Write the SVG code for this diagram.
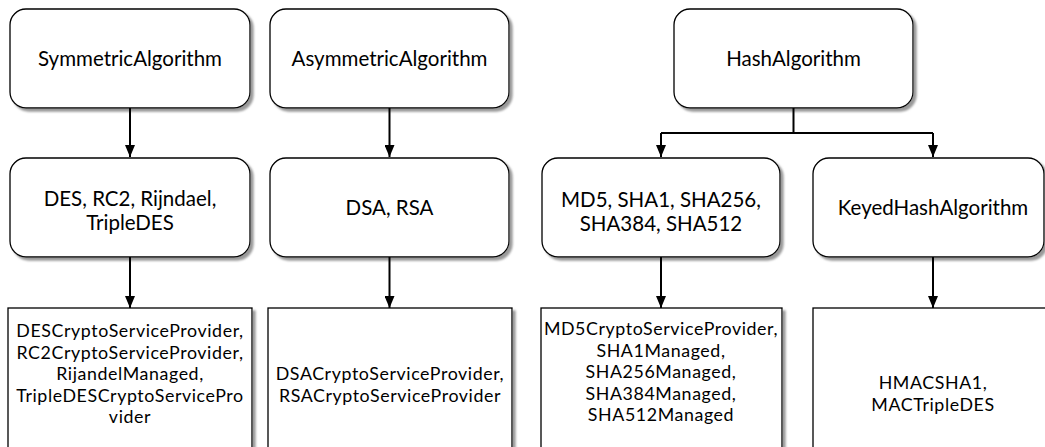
<svg xmlns="http://www.w3.org/2000/svg" width="1045" height="447" viewBox="0 0 1045 447">
<style>
.box{fill:#fff;stroke:#000;stroke-width:1.3;filter:url(#sh)}
.t{font-family:Lato,"Liberation Sans",sans-serif;font-size:20.5px;fill:#000;text-anchor:middle}
.s{font-size:17.8px;letter-spacing:0.6px}
.c{fill:none;stroke:#000;stroke-width:2}
</style>
<defs>
<filter id="sh" x="-5%" y="-5%" width="115%" height="115%">
<feDropShadow dx="3" dy="3" stdDeviation="0.8" flood-color="#999" flood-opacity="1"/>
</filter>
<marker id="ah" markerWidth="12" markerHeight="10" refX="12" refY="5" orient="auto" markerUnits="userSpaceOnUse" viewBox="0 0 12 10">
<path d="M0,0 L12,5 L0,10 Z" fill="#000"/>
</marker>
</defs>
<rect width="1045" height="447" fill="#fff"/>

<g id="sym">
<rect class="box" x="10" y="9" width="240" height="99" rx="16"/>
<text class="t" x="130" y="66">SymmetricAlgorithm</text>
</g>
<g id="asym">
<rect class="box" x="270" y="9" width="239" height="99" rx="16"/>
<text class="t" x="389.5" y="66">AsymmetricAlgorithm</text>
</g>
<g id="hash">
<rect class="box" x="674" y="9" width="239" height="99" rx="16"/>
<text class="t" x="793.5" y="66">HashAlgorithm</text>
</g>

<g id="symimpl">
<rect class="box" x="10" y="158" width="240" height="99" rx="16"/>
<text class="t" x="130" y="206">DES, RC2, Rijndael,</text>
<text class="t" x="130" y="230">TripleDES</text>
</g>
<g id="asymimpl">
<rect class="box" x="270" y="158" width="239" height="99" rx="16"/>
<text class="t" x="389.5" y="215">DSA, RSA</text>
</g>
<g id="hashimpl">
<rect class="box" x="542" y="158" width="238" height="99" rx="16"/>
<text class="t" x="661" y="207">MD5, SHA1, SHA256,</text>
<text class="t" x="661" y="231">SHA384, SHA512</text>
</g>
<g id="keyed">
<rect class="box" x="813" y="158" width="231" height="99" rx="16"/>
<text class="t" x="933" y="215">KeyedHashAlgorithm</text>
</g>

<g id="symprov">
<rect class="box" x="8" y="308" width="244" height="160"/>
<text class="t s" x="130" y="337">DESCryptoServiceProvider,</text>
<text class="t s" x="130" y="358.5">RC2CryptoServiceProvider,</text>
<text class="t s" x="130" y="380">RijandelManaged,</text>
<text class="t s" x="130" y="401.5">TripleDESCryptoServicePro</text>
<text class="t s" x="130" y="423">vider</text>
</g>
<g id="asymprov">
<rect class="box" x="268" y="308" width="244" height="160"/>
<text class="t s" x="390" y="380">DSACryptoServiceProvider,</text>
<text class="t s" x="390" y="401.5">RSACryptoServiceProvider</text>
</g>
<g id="hashprov">
<rect class="box" x="541" y="308" width="241" height="160"/>
<text class="t s" x="661" y="335">MD5CryptoServiceProvider,</text>
<text class="t s" x="661" y="356.5">SHA1Managed,</text>
<text class="t s" x="661" y="378">SHA256Managed,</text>
<text class="t s" x="661" y="399.5">SHA384Managed,</text>
<text class="t s" x="661" y="421">SHA512Managed</text>
</g>
<g id="keyedprov">
<rect class="box" x="813" y="308" width="245" height="160"/>
<text class="t s" x="933" y="389">HMACSHA1,</text>
<text class="t s" x="933" y="410.5">MACTripleDES</text>
</g>

<g id="connectors">
<path class="c" d="M130,108 V157" marker-end="url(#ah)"/>
<path class="c" d="M389.5,108 V157" marker-end="url(#ah)"/>
<path class="c" d="M130,257 V308" marker-end="url(#ah)"/>
<path class="c" d="M389.5,257 V308" marker-end="url(#ah)"/>
<path class="c" d="M793.5,108 V133 M661,133 H933"/>
<path class="c" d="M661,133 V157" marker-end="url(#ah)"/>
<path class="c" d="M933,133 V157" marker-end="url(#ah)"/>
<path class="c" d="M661,257 V308" marker-end="url(#ah)"/>
<path class="c" d="M933,257 V308" marker-end="url(#ah)"/>
</g>
</svg>
